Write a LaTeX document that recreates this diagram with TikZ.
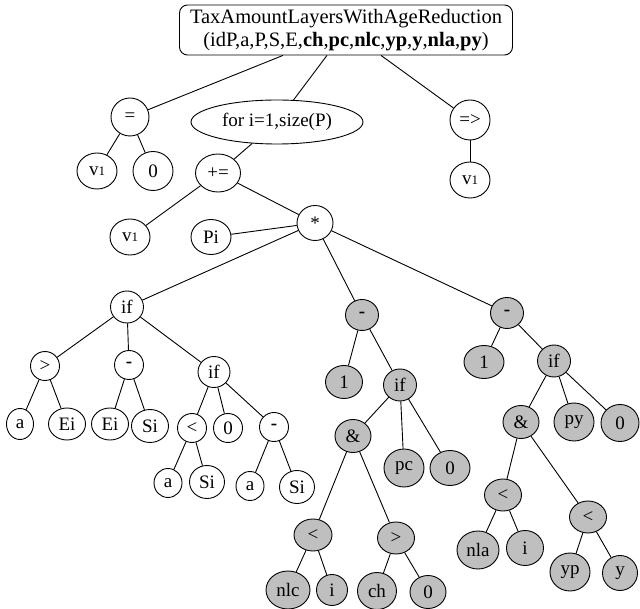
\documentclass[tikz,border=0pt]{standalone}
\usepackage{fontspec}
\setmainfont{Liberation Serif}
\usetikzlibrary{shapes.geometric}
\newcommand{\vone}{v{\fontsize{13}{13}\selectfont 1}}
\begin{document}
\begin{tikzpicture}[x=1pt, y=-1pt, line width=0.9pt,
    wn/.style={draw, ellipse, fill=white, inner sep=0pt, minimum width=36pt, minimum height=33pt,
      font=\fontsize{19}{22}\selectfont},
    gn/.style={wn, fill=black!25},
    sm/.style={minimum width=29pt, minimum height=29pt}]
    \useasboundingbox (0,0) rectangle (640,609);
    \node[draw, rounded corners=8pt, align=center, minimum width=333pt, minimum height=50pt, inner sep=2pt,
      font=\fontsize{20.5}{23}\selectfont] (root) at (346,30)
      {TaxAmountLayersWithAgeReduction\\(idP,a,P,S,E,\textbf{ch},\textbf{pc},\textbf{nlc},\textbf{yp},\textbf{y},\textbf{nla},\textbf{py})};
    \node[wn, minimum width=38pt, minimum height=38pt] (eq) at (130,117) {=};
    \node[wn, minimum width=40pt, minimum height=36pt] (vA) at (97,171) {\vone};
    \node[wn, minimum width=40pt, minimum height=39pt] (zA) at (153,171) {0};
    \node[wn, minimum width=172pt, minimum height=44pt] (loop) at (277,122) {for i=1,size(P)};
    \node[wn, minimum width=45pt, minimum height=38pt] (pluseq) at (218,173) {+=};
    \node[wn, minimum width=40pt, minimum height=40pt] (imp) at (470,120) {=>};
    \node[wn, minimum width=40pt, minimum height=36pt] (vC) at (470,180) {\vone};
    \node[wn, minimum width=40pt, minimum height=36pt] (vB) at (130,237) {\vone};
    \node[wn, minimum width=40pt, minimum height=35pt] (Pi) at (211,237) {Pi};
    \node[wn, minimum width=36pt, minimum height=35pt] (times) at (315,223) {*};
    \node[wn, sm, minimum width=33pt, minimum height=32pt] (ifA) at (127,307) {if};
    \node[wn, sm] (gt) at (45,366) {>};
    \node[wn, sm] (minA) at (129,365) {\textbf{-}};
    \node[wn, sm, minimum width=32pt, minimum height=31pt] (ifB) at (214,372) {if};
    \node[wn, sm, minimum width=27pt, minimum height=31pt] (aA) at (20,424) {a};
    \node[wn, sm, minimum width=37pt, minimum height=32pt] (EiA) at (67,424) {Ei};
    \node[wn, sm, minimum width=37pt, minimum height=32pt] (EiB) at (110,424) {Ei};
    \node[wn, sm, minimum width=37pt, minimum height=33pt] (SiA) at (150,426) {Si};
    \node[wn, sm] (ltA) at (192,428) {<};
    \node[wn, sm] (zB) at (228,428) {0};
    \node[wn, sm] (minB) at (274,427) {\textbf{-}};
    \node[wn, sm, minimum width=28pt, minimum height=29pt] (aB) at (168,483) {a};
    \node[wn, sm, minimum width=35pt, minimum height=33pt] (SiB) at (207,482) {Si};
    \node[wn, sm, minimum width=28pt, minimum height=29pt] (aC) at (250,486) {a};
    \node[wn, sm, minimum width=35pt, minimum height=33pt] (SiC) at (297,487) {Si};
    \node[gn, minimum width=33pt, minimum height=31pt] (minG) at (362,315) {\textbf{-}};
    \node[gn, minimum width=37pt, minimum height=33pt] (oneG) at (344,382) {1};
    \node[gn, minimum width=33pt, minimum height=32pt] (ifG) at (400,385) {if};
    \node[gn] (andG) at (353,436) {\&};
    \node[gn, minimum width=40pt, minimum height=38pt] (pc) at (404,468) {pc};
    \node[gn, minimum width=40pt, minimum height=35pt] (zG) at (450,468) {0};
    \node[gn, minimum width=38pt, minimum height=32pt] (ltG) at (313,535) {<};
    \node[gn, minimum width=37pt, minimum height=32pt] (gtG) at (396,538) {>};
    \node[gn, minimum width=44pt, minimum height=38pt] (nlc) at (288,590) {nlc};
    \node[gn, minimum width=31pt, minimum height=31pt] (iG) at (332,590) {i};
    \node[gn, minimum width=39pt, minimum height=37pt] (ch) at (377,591) {ch};
    \node[gn, minimum width=36pt, minimum height=33pt] (zH) at (428,592) {0};
    \node[gn, minimum width=33pt, minimum height=31pt] (minH) at (507,313) {\textbf{-}};
    \node[gn, minimum width=40pt, minimum height=33pt] (oneH) at (484,362) {1};
    \node[gn, minimum width=33pt, minimum height=32pt] (ifH) at (554,361) {if};
    \node[gn] (andH) at (521,422) {\&};
    \node[gn, minimum width=40pt, minimum height=38pt] (py) at (574,422) {py};
    \node[gn, minimum width=38pt, minimum height=37pt] (zI) at (620,423) {0};
    \node[gn, minimum width=37pt, minimum height=32pt] (ltH) at (503,495) {<};
    \node[gn, minimum width=37pt, minimum height=32pt] (ltI) at (588,517) {<};
    \node[gn, minimum width=42pt, minimum height=38pt] (nla) at (478,550) {nla};
    \node[gn, minimum width=37pt, minimum height=35pt] (iH) at (525,548) {i};
    \node[gn, minimum width=40pt, minimum height=38pt] (yp) at (570,572) {yp};
    \node[gn, minimum width=35pt, minimum height=35pt] (y) at (620,573) {y};
    \foreach \a/\b in {root/eq, root/loop, root/imp, eq/vA, eq/zA, loop/pluseq, imp/vC,
        pluseq/vB, pluseq/times, times/Pi, times/ifA, times/minG, times/minH,
        ifA/gt, ifA/minA, ifA/ifB, gt/aA, gt/EiA, minA/EiB, minA/SiA,
        ifB/ltA, ifB/zB, ifB/minB, ltA/aB, ltA/SiB, minB/aC, minB/SiC,
        minG/oneG, minG/ifG, ifG/andG, ifG/pc, ifG/zG, andG/ltG, andG/gtG,
        ltG/nlc, ltG/iG, gtG/ch, gtG/zH,
        minH/oneH, minH/ifH, ifH/andH, ifH/py, ifH/zI, andH/ltH, andH/ltI,
        ltH/nla, ltH/iH, ltI/yp, ltI/y}
      \draw (\a) -- (\b);
\end{tikzpicture}
\end{document}
